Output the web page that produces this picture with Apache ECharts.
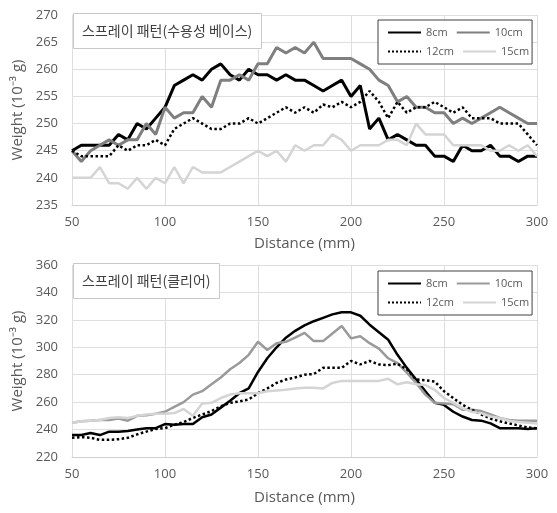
<!DOCTYPE html>
<html>
<head>
<meta charset="utf-8">
<script src="https://cdn.jsdelivr.net/npm/echarts@6/dist/echarts.min.js"></script>
<style>html,body{margin:0;padding:0;background:#fff}#c{width:557px;height:513px}</style>
</head>
<body>
<div id="c"></div>
<script>
// Distance (mm)
const distances = [50,55,60,65,70,75,80,85,90,95,100,105,110,115,120,125,130,135,140,145,150,155,160,165,170,175,180,185,190,195,200,205,210,215,220,225,230,235,240,245,250,255,260,265,270,275,280,285,290,295,300];
const seriesNames = ['8cm','10cm','12cm','15cm'];
const xTicks = [50,100,150,200,250,300];

// Chart 1: 스프레이 패턴(수용성 베이스)
const title1 = '스프레이 패턴(수용성 베이스)';
const top8  = [245,246,246,246,246,248,247,250,249,251,253, 257,258,259,258,260,261,259,258,260,259, 259,258,259,258,258,257,256,257,258,255, 257,249,251,247,248,247,246,246,244,244, 243,246,245,245,246,244,244,243,244,244];
const top10 = [245,243,245,246,247,246,247,247,250,248,253, 251,252,252,255,253,258,258,259,258,261, 261,264,263,264,263,265,262,262,262,262, 261,260,258,257,254,255,253,253,252,252, 250,251,250,251,252,253,252,251,250,250];
const top12 = [245,244,244,244,244,246,245,246,246,247,246, 249,250,251,250,249,249,250,250,251,250, 251,252,253,252,253,252,253.5,253,254,253, 254,256,254,251,254,252,253,253,254,253, 252,253,251,251,251,250,250,250,248,246];
const top15 = [240,240,240,242,239,239,238,240,238,240,239, 242,239,242,241,241,241,242,243,244,245, 244,245,243,246,245,246,246,248,247,245, 246,246,246,247,247,246,250,248,248,248, 246,246,246,246,245,245,246,245,246,244];

// Chart 2: 스프레이 패턴(클리어)
const title2 = '스프레이 패턴(클리어)';
const bot8  = [236,236,237.5,236,238.5,238.5,239,240,241,241,244, 243.5,244,244,249,251,256,261,266.5,270,282, 292,300,307,312,316,319,321.5,324,325.5,325.5, 323,316.5,311,305.5,294.5,285,276.5,268,259.5,258, 253,249.5,247,246.5,244.5,241,241,241,240.5,241];
const bot10 = [245,246,246.5,247,247,248,246.5,250,250.5,251.5,253, 256.5,260,265.5,268,273,278,284,288.5,294.5,304, 298,303,304,307,310.5,304.5,304.5,310,315.5,306.5, 308,303,299,292,288.5,281.5,274,265.5,259.5,259, 258.5,254.5,254.5,253.5,251,248.5,247,246.5,246.5,246.5];
const bot12 = [234,234.5,234,232.5,232.5,233,234,236.5,238.5,240.5,241, 243.5,245.5,248.5,251,253.5,257,259.5,260.5,262,266.5, 270,274,276.5,278,280,280.5,285,285,285,290, 287.5,290,287.5,287,288,284,276.5,276,275,268, 263,258,254.5,251,248,246,244.5,243,241.5,241];
const bot15 = [245,246,246.5,247,248.5,249,248.5,250,251,251.5,251.5, 252,255,250,259,259.5,263,265.5,266.5,266.5,266.5, 268,268.5,269,270,270.5,270.5,270,274,275.5,275.5, 275.5,275.5,275.5,277,273,274.5,273,272.5,269,263, 259.5,255.5,253,252,249.5,248.5,246.5,245.5,245,244.5];

const yTop = {min:235, max:270, interval:5};
const yBot = {min:220, max:360, interval:20};

const FONT = 'Open Sans';
const GRAY_TXT = '#595959';

function pairs(vals){ return distances.map((d,i)=>[d, vals[i]]); }

const chart = echarts.init(document.getElementById('c'), null, {renderer:'canvas'});

function xAxisCfg(gridIndex, gap){
  return {
    type:'value', gridIndex, min:50, max:300, interval:50,
    name:'Distance (mm)', nameLocation:'middle', nameGap:gap,
    nameTextStyle:{fontFamily:FONT, fontSize:15, color:GRAY_TXT},
    axisLine:{show:true, lineStyle:{color:'#d0d0d0', width:1}},
    axisTick:{show:false},
    axisLabel:{fontFamily:FONT, fontSize:13, color:GRAY_TXT, margin:11},
    splitLine:{show:true, lineStyle:{color:'#dedede', width:1}}
  };
}
function yAxisCfg(gridIndex, cfg){
  return {
    type:'value', gridIndex, min:cfg.min, max:cfg.max, interval:cfg.interval,
    name:'Weight (10⁻³ g)', nameLocation:'middle', nameGap:46, nameRotate:90,
    nameTextStyle:{fontFamily:FONT, fontSize:15, color:GRAY_TXT},
    axisLine:{show:false}, axisTick:{show:false},
    axisLabel:{fontFamily:FONT, fontSize:13, color:GRAY_TXT, margin:14},
    splitLine:{show:true, lineStyle:{color:'#dedede', width:1}}
  };
}
function mk(name, vals, idx, color, width, type){
  return {
    name, type:'line', xAxisIndex:idx, yAxisIndex:idx, data:pairs(vals),
    symbol:'none', silent:true, animation:false,
    lineStyle:{color, width, type:type||'solid'},
    itemStyle:{color, opacity:0}
  };
}
function legendCfg(top, names){
  return {
    data:names, left:378, top:top, width:145,
    orient:'horizontal', itemWidth:33, itemHeight:13, itemGap:8,
    padding:[7,3,7,9],
    borderColor:'#404040', borderWidth:1, backgroundColor:'#fff',
    itemStyle:{opacity:0},
    textStyle:{fontFamily:FONT, fontSize:11, color:GRAY_TXT, width:27}
  };
}
function titleCfg(text, top){
  return {
    text, left:73, top:top, padding:[11,9,11,9],
    borderColor:'#c8c8c8', borderWidth:1, backgroundColor:'#fff',
    textStyle:{fontFamily:'Noto Sans CJK KR', fontSize:14, fontWeight:'normal', color:'#404040'}
  };
}

const option = {
  backgroundColor:'#fff',
  animation:false,
  title:[titleCfg(title1, 13), titleCfg(title2, 263)],
  grid:[
    {left:72, top:15, width:465, height:190},
    {left:72, top:265, width:465, height:192}
  ],
  xAxis:[xAxisCfg(0,31), xAxisCfg(1,33)],
  yAxis:[yAxisCfg(0,yTop), yAxisCfg(1,yBot)],
  legend:[
    legendCfg(20, seriesNames.map(n=>n)),
    Object.assign(legendCfg(271, seriesNames.map(n=>n+' ')), {formatter:(n)=>n.trim()})
  ],
  series:[
    mk(seriesNames[0], top8, 0, '#000000', 3),
    mk(seriesNames[1], top10, 0, '#7f7f7f', 3),
    mk(seriesNames[2], top12, 0, '#000000', 2.5, 'dotted'),
    mk(seriesNames[3], top15, 0, '#d4d4d4', 2.5),
    mk(seriesNames[0]+' ', bot8, 1, '#000000', 2.5),
    mk(seriesNames[1]+' ', bot10, 1, '#9a9a9a', 2.5),
    mk(seriesNames[2]+' ', bot12, 1, '#000000', 2.5, 'dotted'),
    mk(seriesNames[3]+' ', bot15, 1, '#d4d4d4', 2.5)
  ]
};
chart.setOption(option);
</script>
</body>
</html>
